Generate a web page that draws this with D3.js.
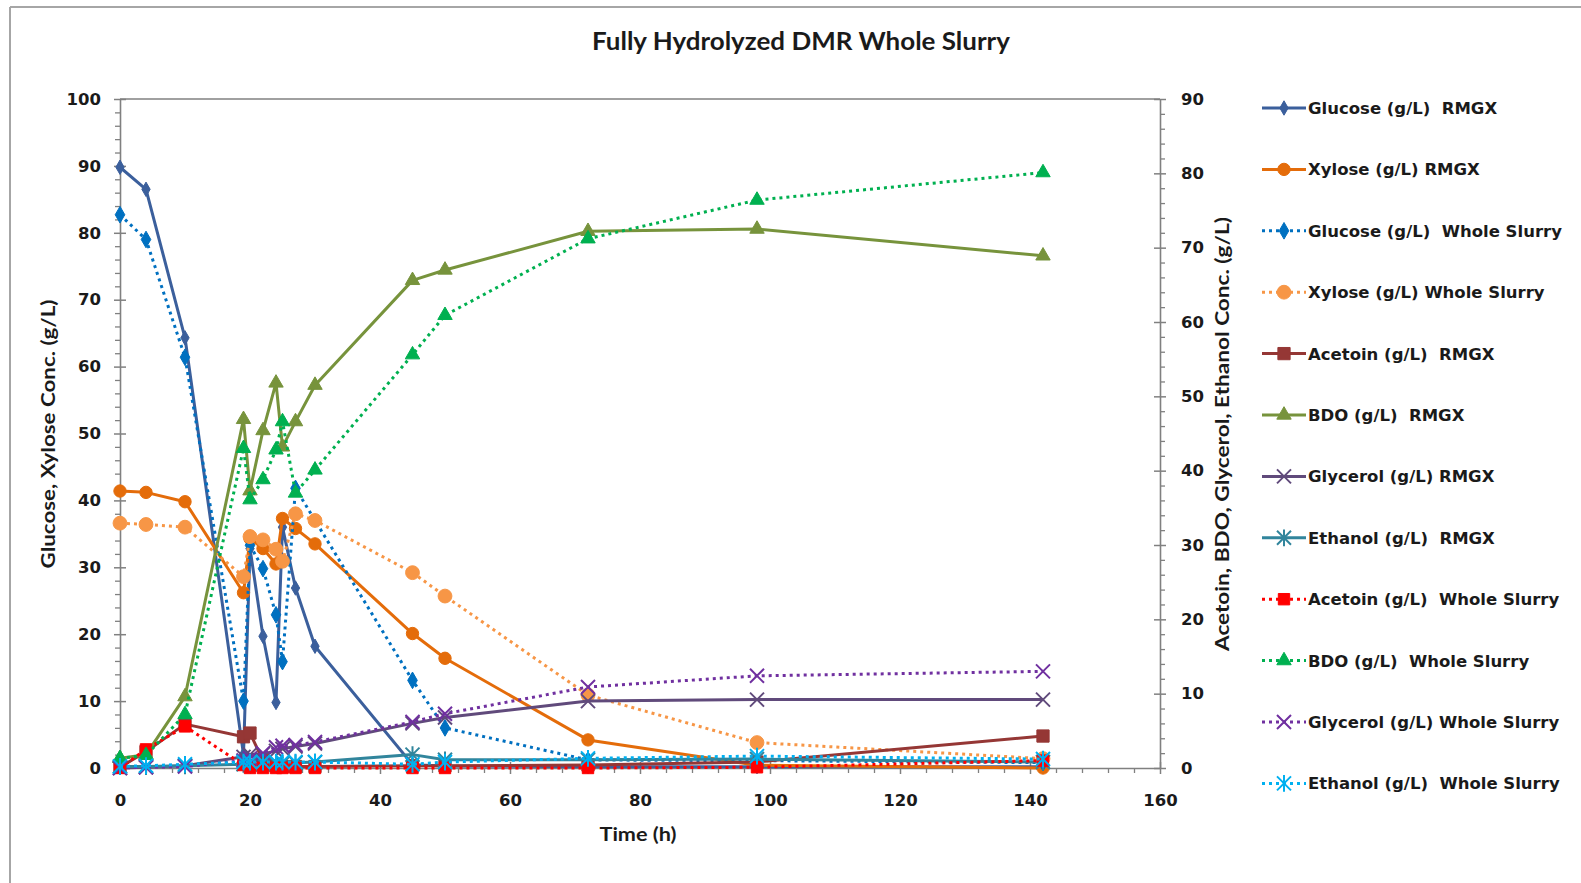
<!DOCTYPE html>
<html>
<head>
<meta charset="utf-8">
<script src="https://cdn.jsdelivr.net/npm/d3@7"></script>
<style>
  html, body { margin: 0; padding: 0; background: #fff; }
  svg { display: block; }
  text { white-space: pre; }
</style>
</head>
<body>
<svg id="chart" width="1581" height="883"></svg>
<script>
// Sampling times (h)
const hours = [0, 4, 10, 19, 20, 22, 24, 25, 27, 30, 45, 50, 72, 98, 142];

// Left axis series (g/L)
const glucoseRMGX = [89.8, 86.5, 64.3, 2.0, 32.8, 19.7, 9.8, 36.0, 26.9, 18.2, 0.5, 0.3, 0.2, 0.2, 0.2];
const xyloseRMGX  = [41.4, 41.2, 39.8, 26.2, 34.3, 32.8, 30.5, 37.3, 35.8, 33.5, 20.1, 16.4, 4.2, 0.4, 0.0];
const glucoseWS   = [82.7, 79.0, 61.4, 10.0, 33.3, 29.8, 22.9, 15.9, 41.8, null, 13.1, 6.0, 1.2, 1.1, 0.8];
const xyloseWS    = [36.6, 36.4, 36.0, 28.6, 34.6, 34.1, 32.7, 30.9, 38.0, 37.0, 29.2, 25.7, 10.9, 3.8, 1.4];

// Right axis series (g/L)
const acetoinRMGX  = [0.1, 2.2, 5.9, 4.2, 4.7, 1.0, 0.3, 0.2, 0.2, 0.2, 0.3, 0.3, 0.4, 0.8, 4.3];
const bdoRMGX      = [1.3, 1.8, 9.6, 46.9, 37.3, 45.4, 51.8, 43.2, 46.6, 51.5, 65.6, 67.0, 72.2, 72.5, 68.9];
const glycerolRMGX = [0.0, 0.1, 0.3, 1.5, 1.8, 1.9, 2.3, 2.6, 2.9, 3.3, 6.0, 6.8, 9.0, 9.2, 9.2];
const ethanolRMGX  = [0.2, 0.2, 0.3, 0.5, 0.5, 0.5, 0.6, 0.6, 0.7, 0.8, 1.8, 1.1, 1.1, 1.2, 0.8];
const acetoinWS    = [0.0, 2.5, 5.6, 0.4, 0.0, 0.0, 0.0, 0.0, 0.0, 0.0, 0.0, 0.0, 0.0, 0.1, 1.0];
const bdoWS        = [1.3, 1.7, 7.2, 43.0, 36.1, 38.8, 42.8, 46.6, 37.0, 40.1, 55.6, 60.9, 71.2, 76.4, 80.1];
const glycerolWS   = [0.0, 0.1, 0.2, 1.0, 1.3, 2.0, 2.8, 3.0, 3.1, 3.5, 6.2, 7.3, 10.9, 12.4, 13.0];
const ethanolWS    = [0.2, 0.3, 0.5, 0.8, 0.8, 0.8, 0.8, 0.8, 0.8, 0.8, 0.5, 0.8, 1.3, 1.6, 1.2];

// Axis ticks
const xTicks = [0, 20, 40, 60, 80, 100, 120, 140, 160];
const yLeftTicks = [0, 10, 20, 30, 40, 50, 60, 70, 80, 90, 100];
const yRightTicks = [0, 10, 20, 30, 40, 50, 60, 70, 80, 90];

const titleText = "Fully Hydrolyzed DMR Whole Slurry";
const xTitle = "Time (h)";
const yLeftTitle = "Glucose, Xylose Conc. (g/L)";
const yRightTitle = "Acetoin, BDO, Glycerol, Ethanol Conc. (g/L)";

// Series definitions: label, values, axis, colour, line style, marker
const series = [
  { name: "Glucose (g/L)  RMGX",         values: glucoseRMGX,  axis: "L", color: "#3b5f9c", dotted: false, marker: "diamond",  size: 60 },
  { name: "Xylose (g/L) RMGX",           values: xyloseRMGX,   axis: "L", color: "#e46c0a", dotted: false, marker: "circle",   size: 120 },
  { name: "Glucose (g/L)  Whole Slurry", values: glucoseWS,    axis: "L", color: "#0070c0", dotted: true,  marker: "diamond",  size: 80 },
  { name: "Xylose (g/L) Whole Slurry",   values: xyloseWS,     axis: "L", color: "#f79646", dotted: true,  marker: "circle",   size: 150 },
  { name: "Acetoin (g/L)  RMGX",         values: acetoinRMGX,  axis: "R", color: "#953735", dotted: false, marker: "square",   size: 150 },
  { name: "BDO (g/L)  RMGX",             values: bdoRMGX,      axis: "R", color: "#77933c", dotted: false, marker: "triangle", size: 90 },
  { name: "Glycerol (g/L) RMGX",         values: glycerolRMGX, axis: "R", color: "#604a7b", dotted: false, marker: "x",        size: 7 },
  { name: "Ethanol (g/L)  RMGX",         values: ethanolRMGX,  axis: "R", color: "#31859c", dotted: false, marker: "star",     size: 7 },
  { name: "Acetoin (g/L)  Whole Slurry", values: acetoinWS,    axis: "R", color: "#ff0000", dotted: true,  marker: "square",   size: 130 },
  { name: "BDO (g/L)  Whole Slurry",     values: bdoWS,        axis: "R", color: "#00b050", dotted: true,  marker: "triangle", size: 90 },
  { name: "Glycerol (g/L) Whole Slurry", values: glycerolWS,   axis: "R", color: "#7030a0", dotted: true,  marker: "x",        size: 7 },
  { name: "Ethanol (g/L)  Whole Slurry", values: ethanolWS,    axis: "R", color: "#00b0f0", dotted: true,  marker: "star",     size: 7 }
];

const svg = d3.select("#chart");
const W = 1581, H = 883;
const plot = { left: 120, right: 1160, top: 99, bottom: 768 };

const x = d3.scaleLinear().domain([0, 160]).range([plot.left, plot.right]);
const yL = d3.scaleLinear().domain([0, 100]).range([plot.bottom, plot.top]);
const yR = d3.scaleLinear().domain([0, 90]).range([plot.bottom, plot.top]);

const axisColor = "#808080";
const textColor = "#1a1a1a";
const tickFont = "'DejaVu Sans', Verdana, sans-serif";
const titleFont = "Lato, 'Open Sans', sans-serif";

// Chart frame (top and left edges of the outer border)
svg.append("line").attr("x1", 10).attr("x2", W).attr("y1", 7).attr("y2", 7)
  .attr("stroke", "#a6a6a6").attr("stroke-width", 2);
svg.append("line").attr("x1", 10).attr("x2", 10).attr("y1", 7).attr("y2", H)
  .attr("stroke", "#a6a6a6").attr("stroke-width", 2);

// Title
svg.append("text")
  .attr("x", 801).attr("y", 50)
  .attr("text-anchor", "middle")
  .attr("font-family", titleFont).attr("font-weight", 700).attr("font-size", 25)
  .attr("textLength", 418).attr("lengthAdjust", "spacingAndGlyphs")
  .attr("fill", textColor)
  .text(titleText);

// Plot area top border
svg.append("line").attr("x1", plot.left).attr("x2", plot.right)
  .attr("y1", plot.top).attr("y2", plot.top)
  .attr("stroke", axisColor).attr("stroke-width", 1.5);

function range(a, b, s) { const r = []; for (let v = a; v <= b + 1e-9; v += s) r.push(+v.toFixed(6)); return r; }

// Minor ticks
const gMinor = svg.append("g");
svg.append("g").attr("transform", `translate(0,${plot.bottom})`)
  .call(d3.axisBottom(x).tickValues(range(0, 160, 4).filter(v => v % 20 !== 0)).tickSize(5).tickFormat(""))
  .call(g => g.select(".domain").remove())
  .call(g => g.selectAll(".tick line").attr("stroke", axisColor).attr("stroke-width", 1.3));
svg.append("g").attr("transform", `translate(${plot.left},0)`)
  .call(d3.axisLeft(yL).tickValues(range(0, 100, 2).filter(v => v % 10 !== 0)).tickSize(5).tickFormat(""))
  .call(g => g.select(".domain").remove())
  .call(g => g.selectAll(".tick line").attr("stroke", axisColor).attr("stroke-width", 1.3));
svg.append("g").attr("transform", `translate(${plot.right},0)`)
  .call(d3.axisRight(yR).tickValues(range(0, 90, 2).filter(v => v % 10 !== 0)).tickSize(5).tickFormat(""))
  .call(g => g.select(".domain").remove())
  .call(g => g.selectAll(".tick line").attr("stroke", axisColor).attr("stroke-width", 1.3));

// Major axes
const styleAxis = (g) => {
  g.select(".domain").attr("stroke", axisColor).attr("stroke-width", 1.6);
  g.selectAll(".tick line").attr("stroke", axisColor).attr("stroke-width", 1.5);
  g.selectAll(".tick text").attr("font-family", tickFont).attr("font-weight", 700)
    .attr("font-size", 16.5).attr("fill", textColor);
};

svg.append("g").attr("transform", `translate(0,${plot.bottom})`)
  .call(d3.axisBottom(x).tickValues(xTicks).tickSize(6).tickSizeOuter(0).tickPadding(20))
  .call(styleAxis)
  .call(g => g.selectAll(".tick line").attr("y1", -6));

svg.append("g").attr("transform", `translate(${plot.left},0)`)
  .call(d3.axisLeft(yL).tickValues(yLeftTicks).tickSize(6).tickSizeOuter(0).tickPadding(13))
  .call(styleAxis)
  .call(g => g.selectAll(".tick line").attr("x1", 6));

svg.append("g").attr("transform", `translate(${plot.right},0)`)
  .call(d3.axisRight(yR).tickValues(yRightTicks).tickSize(6).tickSizeOuter(0).tickPadding(15))
  .call(styleAxis)
  .call(g => g.selectAll(".tick line").attr("x1", -6));

// Axis titles
svg.append("text")
  .attr("x", 638).attr("y", 841).attr("text-anchor", "middle")
  .attr("font-family", titleFont).attr("font-weight", 700).attr("font-size", 19)
  .attr("textLength", 77).attr("lengthAdjust", "spacingAndGlyphs")
  .attr("fill", textColor).text(xTitle);

svg.append("text")
  .attr("transform", "translate(55,434) rotate(-90)").attr("text-anchor", "middle")
  .attr("font-family", titleFont).attr("font-weight", 700).attr("font-size", 19)
  .attr("textLength", 269).attr("lengthAdjust", "spacingAndGlyphs")
  .attr("fill", textColor).text(yLeftTitle);

svg.append("text")
  .attr("transform", "translate(1229,434) rotate(-90)").attr("text-anchor", "middle")
  .attr("font-family", titleFont).attr("font-weight", 700).attr("font-size", 19)
  .attr("textLength", 434).attr("lengthAdjust", "spacingAndGlyphs")
  .attr("fill", textColor).text(yRightTitle);

// Marker paths
function markerPath(type, size) {
  if (type === "x") {
    const s = size;
    return `M${-s},${-s}L${s},${s}M${-s},${s}L${s},${-s}`;
  }
  if (type === "star") {
    const s = size;
    return `M${-s},${-s}L${s},${s}M${-s},${s}L${s},${-s}M0,${-s * 1.2}L0,${s * 1.2}`;
  }
  const map = { diamond: d3.symbolDiamond, circle: d3.symbolCircle, square: d3.symbolSquare, triangle: d3.symbolTriangle };
  return d3.symbol().type(map[type]).size(size)();
}

function drawMarker(g, s, cx, cy) {
  const p = g.append("path")
    .attr("transform", `translate(${cx},${cy})`)
    .attr("d", markerPath(s.marker, s.size));
  if (s.marker === "x" || s.marker === "star") {
    p.attr("fill", "none").attr("stroke", s.color).attr("stroke-width", 2);
  } else {
    p.attr("fill", s.color).attr("stroke", s.color).attr("stroke-width", 1);
  }
}

// Series lines and markers
const gSeries = svg.append("g");
series.forEach(s => {
  const y = s.axis === "L" ? yL : yR;
  const pts = hours.map((h, i) => ({ h, v: s.values[i] })).filter(d => d.v !== null);
  const line = d3.line().x(d => x(d.h)).y(d => y(d.v));
  const g = gSeries.append("g");
  g.append("path").datum(pts)
    .attr("d", line)
    .attr("fill", "none")
    .attr("stroke", s.color)
    .attr("stroke-width", 3)
    .attr("stroke-linejoin", "round")
    .attr("stroke-dasharray", s.dotted ? "3,4" : null);
  pts.forEach(d => drawMarker(g, s, x(d.h), y(d.v)));
});

// Legend
const legend = svg.append("g");
series.forEach((s, i) => {
  const yy = 108 + i * 61.4;
  const g = legend.append("g");
  g.append("line").attr("x1", 1262).attr("x2", 1306).attr("y1", yy).attr("y2", yy)
    .attr("stroke", s.color).attr("stroke-width", 3)
    .attr("stroke-dasharray", s.dotted ? "3,4" : null);
  drawMarker(g, s, 1284, yy);
  g.append("text").attr("x", 1308).attr("y", yy + 6)
    .attr("font-family", tickFont).attr("font-weight", 700).attr("font-size", 16.5)
    .attr("fill", textColor).attr("xml:space", "preserve")
    .text(s.name);
});
</script>
</body>
</html>
